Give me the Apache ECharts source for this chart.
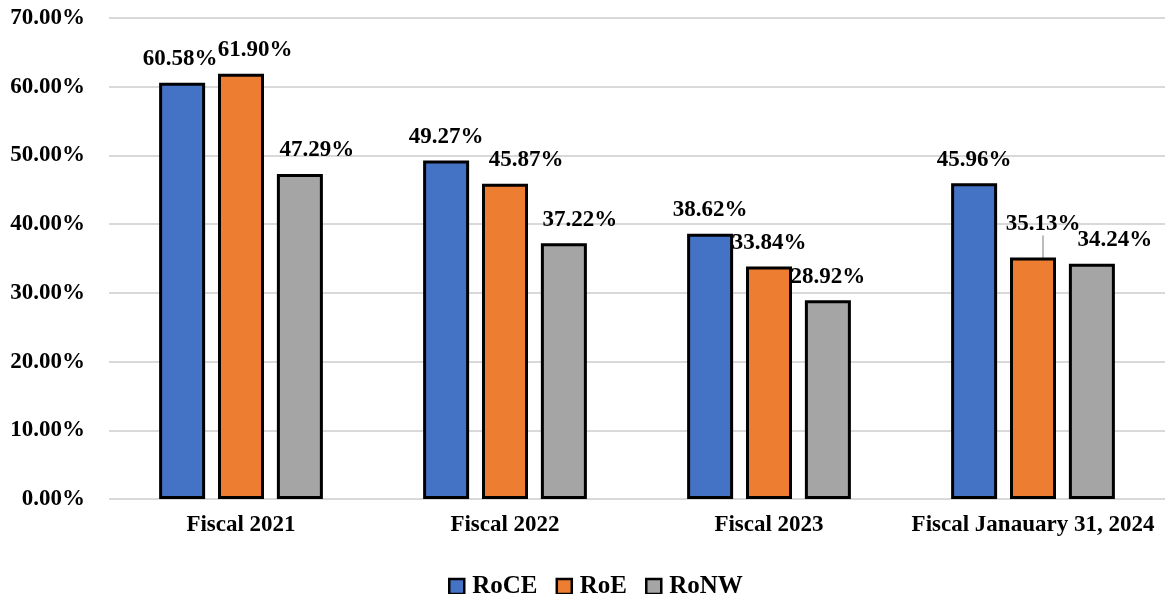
<!DOCTYPE html>
<html>
<head>
<meta charset="utf-8">
<script src="https://cdn.jsdelivr.net/npm/echarts@6/dist/echarts.min.js"></script>
<style>
  html, body { margin: 0; padding: 0; background: #fff; }
  #chart { width: 1167px; height: 594px; }
</style>
</head>
<body>
<div id="chart"></div>
<script>
var categories = ['Fiscal 2021', 'Fiscal 2022', 'Fiscal 2023', 'Fiscal Janauary 31, 2024'];
var roce = [60.58, 49.27, 38.62, 45.96];
var roe = [61.90, 45.87, 33.84, 35.13];
var ronw = [47.29, 37.22, 28.92, 34.24];

var fontFam = '"Liberation Serif", "Times New Roman", serif';

// label nudges [series][category] -> [dx, dy]
var nudges = [
    [[-2, 0], [0, 0], [0, 0], [0, 0]],
    [[14, 0], [21, 0], [0, 0], [10, -10]],
    [[17, 0], [16, 0], [0, 0], [23, 0]]
];

function makeSeries(name, values, color, idx) {
    return {
        name: name,
        type: 'bar',
        barWidth: 46,
        barGap: '28%',
        data: values.map(function (v, i) {
            var item = { value: v };
            if (idx === 1 && i === 3) {
                item.labelLine = { show: true, lineStyle: { color: '#a6a6a6', width: 1.5 } };
            }
            return item;
        }),
        itemStyle: { color: color, borderColor: '#000', borderWidth: 3 },
        label: {
            show: true,
            position: 'top',
            distance: 12,
            color: '#000',
            fontFamily: fontFam,
            fontWeight: 'bold',
            fontSize: 23,
            formatter: function (p) { return p.value.toFixed(2) + '%'; }
        },
        labelLayout: function (p) {
            var n = nudges[idx][p.dataIndex];
            return { dx: n[0], dy: n[1] };
        }
    };
}

var dom = document.getElementById('chart');
var myChart = echarts.init(dom);

var option = {
    animation: false,
    grid: { left: 109, right: 2, top: 18, bottom: 95 },
    legend: {
        top: 569,
        left: 443,
        itemWidth: 15,
        itemHeight: 15,
        itemGap: 18,
        icon: 'rect',
        itemStyle: { borderColor: '#000', borderWidth: 2.5 },
        textStyle: { fontFamily: fontFam, fontWeight: 'bold', fontSize: 25, color: '#000', padding: [0, 0, 0, 3] },
        data: ['RoCE', 'RoE', 'RoNW']
    },
    xAxis: {
        type: 'category',
        data: categories,
        axisLine: { show: false },
        axisTick: { show: false },
        axisLabel: {
            interval: 0,
            color: '#000',
            fontFamily: fontFam,
            fontWeight: 'bold',
            fontSize: 23,
            margin: 15
        }
    },
    yAxis: {
        type: 'value',
        min: 0,
        max: 70,
        interval: 10,
        axisLine: { show: false },
        axisTick: { show: false },
        splitLine: { lineStyle: { color: '#d9d9d9', width: 2 } },
        axisLabel: {
            color: '#000',
            fontFamily: fontFam,
            fontWeight: 'bold',
            fontSize: 23,
            margin: 24,
            formatter: function (v) { return v.toFixed(2) + '%'; }
        }
    },
    series: [
        makeSeries('RoCE', roce, '#4472C4', 0),
        makeSeries('RoE', roe, '#ED7D31', 1),
        makeSeries('RoNW', ronw, '#A5A5A5', 2)
    ]
};

myChart.setOption(option);
</script>
</body>
</html>
